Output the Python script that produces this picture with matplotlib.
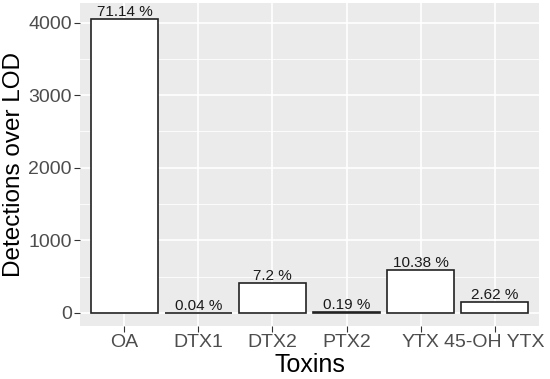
import numpy as np
import matplotlib
matplotlib.use('Agg')
from matplotlib import pyplot as plt

toxins = ['OA', 'DTX1', 'DTX2', 'PTX2', 'YTX', '45-OH YTX']
detections = [4050, 2, 414, 11, 592, 150]
pct_labels = ['71.14 %', '0.04 %', '7.2 %', '0.19 %', '10.38 %', '2.62 %']

plt.rcParams['font.family'] = ['Liberation Sans', 'DejaVu Sans']

fig = plt.figure(figsize=(5.5, 3.79), dpi=100)
ax = fig.add_axes([80/550, 1-326/379, (539-80)/550, (326-3)/379])
ax.set_facecolor('#EBEBEB')

xx = np.arange(len(toxins))
ax.bar(xx, detections, width=0.9, color='white', edgecolor='#222222', linewidth=1.2, zorder=3)
for x, v, lab in zip(xx, detections, pct_labels):
	ax.annotate(lab, (x, v), xytext=(0, 2), textcoords='offset points',
				ha='center', va='baseline', fontsize=11, color='#1a1a1a', zorder=4)

ax.set_xlim(-0.6, len(toxins)-0.4)
ax.set_ylim(-180, 4270)
ax.set_yticks([0, 1000, 2000, 3000, 4000])
ax.set_yticks([500, 1500, 2500, 3500], minor=True)
ax.set_xticks(xx)
ax.set_xticklabels(toxins)

ax.grid(which='major', color='white', linewidth=1.2, zorder=0)
ax.grid(which='minor', axis='y', color='white', linewidth=0.6, zorder=0)
ax.set_axisbelow(True)
for s in ax.spines.values():
	s.set_visible(False)
ax.tick_params(which='major', length=4, width=0.8, color='#333333', labelsize=14, labelcolor='#4D4D4D', pad=2)
ax.tick_params(which='minor', length=0)

ax.set_xlabel('Toxins', fontsize=18, labelpad=1)
ax.set_ylabel('Detections over LOD', fontsize=17.5, labelpad=2)

fig.savefig('out.png', dpi=100)
